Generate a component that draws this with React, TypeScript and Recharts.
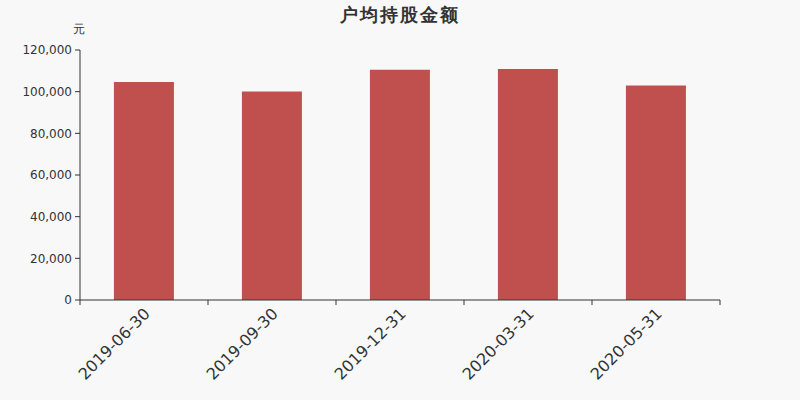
import { BarChart, Bar, XAxis, YAxis } from 'recharts'

const dates = ['2019-06-30', '2019-09-30', '2019-12-31', '2020-03-31', '2020-05-31']
const amounts = [104600, 100100, 110500, 110900, 103000]
const yTicks = [0, 20000, 40000, 60000, 80000, 100000, 120000]

const chartData = dates.map((d, i) => ({ date: d, amount: amounts[i] }))

const FONT = '"DejaVu Sans", sans-serif'
const TEXT = '#333'

function DateTick(props: any) {
  const { x, y, payload, index, visibleTicksCount } = props
  const half = payload?.offset ?? 64
  const last = index === visibleTicksCount - 1
  return (
    <g>
      <line x1={x - half} x2={x - half} y1={y - 5} y2={y} stroke={TEXT} />
      {last && <line x1={x + half} x2={x + half} y1={y - 5} y2={y} stroke={TEXT} />}
      <text
        x={x + 3}
        y={y + 6}
        transform={`rotate(-45, ${x + 3}, ${y + 6})`}
        textAnchor="end"
        dominantBaseline="central"
        fontSize={16}
        fontFamily={FONT}
        fill={TEXT}
      >
        {payload.value}
      </text>
    </g>
  )
}

export default function App() {
  return (
    <div style={{ position: 'absolute', left: 0, top: 0, width: 800, height: 400, background: '#f8f8f8', fontFamily: FONT }}>
      <div style={{ position: 'absolute', left: 0, width: 800, top: 3, textAlign: 'center', fontSize: 18, fontWeight: 'bold', color: TEXT, letterSpacing: 2 }}>
        户均持股金额
      </div>
      <div style={{ position: 'absolute', left: 73, top: 21, fontSize: 12, color: TEXT }}>元</div>
      <BarChart width={800} height={400} data={chartData} margin={{ top: 50, right: 80, bottom: 0, left: 0 }} barCategoryGap="26.5%">
        <XAxis
          dataKey="date"
          height={100}
          tickLine={false}
          tickSize={5}
          tickMargin={0}
          axisLine={{ stroke: TEXT }}
          interval={0}
          tick={<DateTick />}
        />
        <YAxis
          width={80}
          domain={[0, 120000]}
          ticks={yTicks}
          interval={0}
          tickSize={5}
          tickMargin={3}
          axisLine={{ stroke: TEXT }}
          tickLine={{ stroke: TEXT }}
          tick={{ fill: TEXT, fontSize: 12, fontFamily: FONT }}
          tickFormatter={v => v.toLocaleString('en-US')}
        />
        <Bar dataKey="amount" fill="#c0504d" isAnimationActive={false} />
      </BarChart>
    </div>
  )
}
